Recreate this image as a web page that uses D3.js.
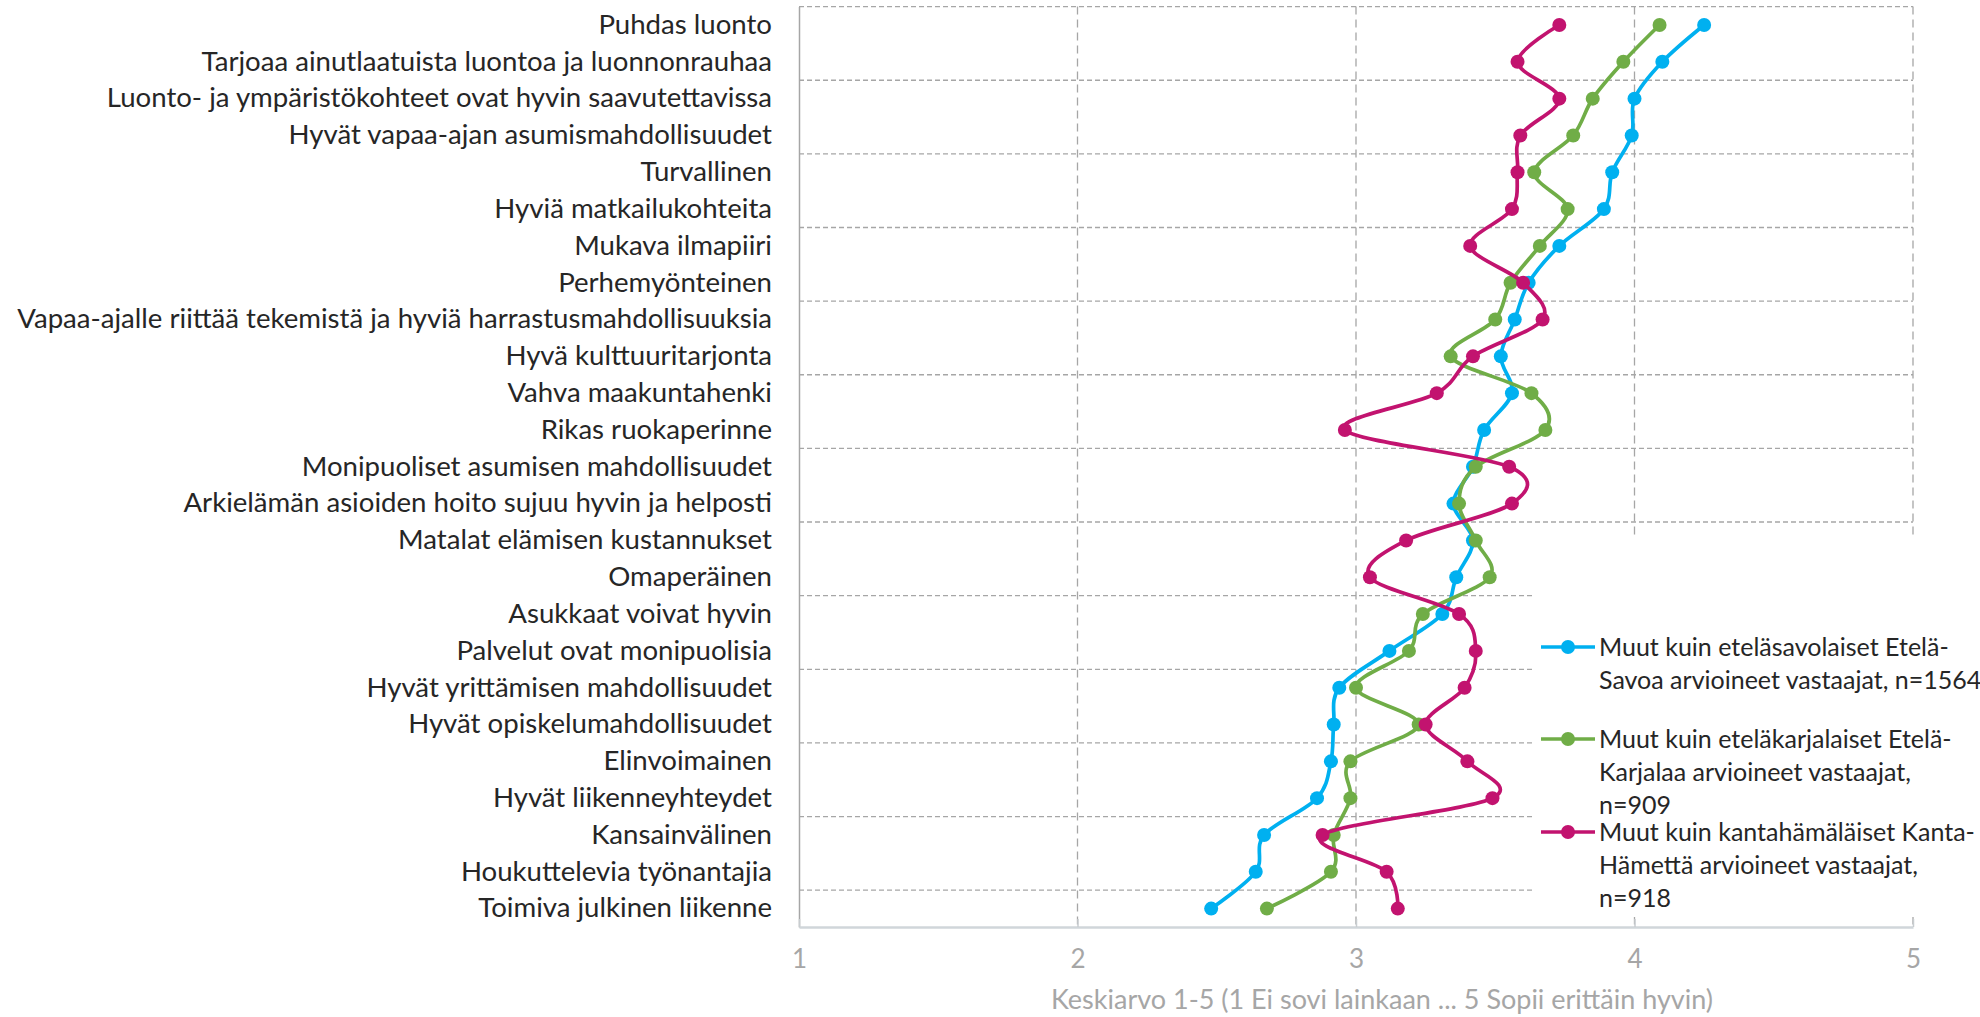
<!DOCTYPE html>
<html>
<head>
<meta charset="utf-8">
<script src="https://cdn.jsdelivr.net/npm/d3@7"></script>
<style>
  body { margin: 0; background: #fff; }
  svg { display: block; font-family: Lato, sans-serif; }
</style>
</head>
<body>
<div id="chart-container"></div>
<script>
const w = 1980;
const h = 1017;

// categories, top to bottom
const categories = [
  'Puhdas luonto',
  'Tarjoaa ainutlaatuista luontoa ja luonnonrauhaa',
  'Luonto- ja ympäristökohteet ovat hyvin saavutettavissa',
  'Hyvät vapaa-ajan asumismahdollisuudet',
  'Turvallinen',
  'Hyviä matkailukohteita',
  'Mukava ilmapiiri',
  'Perhemyönteinen',
  'Vapaa-ajalle riittää tekemistä ja hyviä harrastusmahdollisuuksia',
  'Hyvä kulttuuritarjonta',
  'Vahva maakuntahenki',
  'Rikas ruokaperinne',
  'Monipuoliset asumisen mahdollisuudet',
  'Arkielämän asioiden hoito sujuu hyvin ja helposti',
  'Matalat elämisen kustannukset',
  'Omaperäinen',
  'Asukkaat voivat hyvin',
  'Palvelut ovat monipuolisia',
  'Hyvät yrittämisen mahdollisuudet',
  'Hyvät opiskelumahdollisuudet',
  'Elinvoimainen',
  'Hyvät liikenneyhteydet',
  'Kansainvälinen',
  'Houkuttelevia työnantajia',
  'Toimiva julkinen liikenne'
];

const etelaSavo = [4.25, 4.10, 4.00, 3.99, 3.92, 3.89, 3.73, 3.62, 3.57, 3.52, 3.56, 3.46, 3.42,
  3.35, 3.42, 3.36, 3.31, 3.12, 2.94, 2.92, 2.91, 2.86, 2.67, 2.64, 2.48];
const etelaKarjala = [4.09, 3.96, 3.85, 3.78, 3.64, 3.76, 3.66, 3.555, 3.50, 3.34, 3.63, 3.68, 3.43,
  3.37, 3.43, 3.48, 3.24, 3.19, 3.00, 3.225, 2.98, 2.98, 2.92, 2.91, 2.68];
const kantaHame = [3.73, 3.58, 3.73, 3.59, 3.58, 3.56, 3.41, 3.60, 3.67, 3.42, 3.29, 2.96, 3.55,
  3.56, 3.18, 3.05, 3.37, 3.43, 3.39, 3.25, 3.40, 3.49, 2.88, 3.11, 3.15];

const seriesNames = [
  ['Muut kuin eteläsavolaiset Etelä-', 'Savoa arvioineet vastaajat, n=1564'],
  ['Muut kuin eteläkarjalaiset Etelä-', 'Karjalaa arvioineet vastaajat,', 'n=909'],
  ['Muut kuin kantahämäläiset Kanta-', 'Hämettä arvioineet vastaajat,', 'n=918']
];
const seriesColors = ['#00b0f0', '#70ad47', '#c2136f'];
const xTicks = [1, 2, 3, 4, 5];
const axisTitle = 'Keskiarvo 1-5 (1 Ei sovi lainkaan ... 5 Sopii erittäin hyvin)';

const series = [etelaSavo, etelaKarjala, kantaHame].map((values, i) => ({
  values,
  name: seriesNames[i],
  color: seriesColors[i]
}));

const plot = { left: 799, right: 1913, top: 6.6, bottom: 927 };
const gridColor = '#a6a6a6';

const xScale = d3.scaleLinear().domain([1, 5]).range([plot.left, plot.right]);
const yScale = d3.scaleBand().domain(categories).range([plot.top, plot.bottom]).padding(0);
const yMid = (c) => yScale(c) + yScale.bandwidth() / 2;

const svg = d3
  .select('#chart-container')
  .append('svg')
  .attr('width', w)
  .attr('height', h);

// horizontal gridlines every second category
svg
  .append('g')
  .selectAll('line')
  .data(categories.filter((c, i) => i % 2 === 0))
  .enter()
  .append('line')
  .attr('x1', plot.left)
  .attr('x2', plot.right)
  .attr('y1', (d) => yScale(d))
  .attr('y2', (d) => yScale(d))
  .attr('stroke', gridColor)
  .attr('stroke-width', 1.3)
  .attr('stroke-dasharray', '5,3');

// vertical gridlines
svg
  .append('g')
  .selectAll('line')
  .data(xTicks.slice(1))
  .enter()
  .append('line')
  .attr('x1', (d) => xScale(d))
  .attr('x2', (d) => xScale(d))
  .attr('y1', plot.top)
  .attr('y2', plot.bottom)
  .attr('stroke', gridColor)
  .attr('stroke-width', 1.3)
  .attr('stroke-dasharray', '8,5');

// left axis line + category labels
const yAxis = d3.axisLeft(yScale).tickSize(0).tickPadding(27);
const gy = svg
  .append('g')
  .attr('transform', `translate(${plot.left},0)`)
  .call(yAxis);
gy.select('.domain').attr('stroke', gridColor).attr('stroke-width', 1.5);
gy.selectAll('text')
  .attr('fill', '#262626')
  .style('font-size', '27.6px')
  .style('font-family', 'Lato, sans-serif');

// lines
const line = d3
  .line()
  .x((d) => xScale(d.v))
  .y((d) => yMid(d.c))
  .curve(d3.curveCatmullRom.alpha(0));

series.forEach((s) => {
  const pts = s.values.map((v, i) => ({ v, c: categories[i] }));
  const g = svg.append('g');
  g.append('path')
    .datum(pts)
    .attr('d', line)
    .attr('fill', 'none')
    .attr('stroke', s.color)
    .attr('stroke-width', 3.7)
    .attr('stroke-linejoin', 'round');
  g.selectAll('circle')
    .data(pts)
    .enter()
    .append('circle')
    .attr('cx', (d) => xScale(d.v))
    .attr('cy', (d) => yMid(d.c))
    .attr('r', 7)
    .attr('fill', s.color);
});

// legend, white box over the grid
const legend = svg.append('g');
legend
  .append('rect')
  .attr('x', 1532)
  .attr('y', 539)
  .attr('width', w - 1532)
  .attr('height', 378)
  .attr('fill', '#fff');

const legendTop = [647, 739, 832];
const lineGap = 33;
series.forEach((s, i) => {
  const y0 = legendTop[i];
  const item = legend.append('g');
  item.append('line')
    .attr('x1', 1541)
    .attr('x2', 1595)
    .attr('y1', y0)
    .attr('y2', y0)
    .attr('stroke', s.color)
    .attr('stroke-width', 3.7);
  item.append('circle')
    .attr('cx', 1568)
    .attr('cy', y0)
    .attr('r', 7)
    .attr('fill', s.color);
  item.selectAll('text')
    .data(s.name)
    .enter()
    .append('text')
    .attr('x', 1599)
    .attr('y', (d, j) => y0 + j * lineGap)
    .attr('dy', '0.35em')
    .attr('fill', '#262626')
    .style('font-size', '25px')
    .text((d) => d);
});

// bottom axis
const xAxis = d3
  .axisBottom(xScale)
  .tickValues(xTicks)
  .tickFormat(d3.format('d'))
  .tickSizeInner(-8)
  .tickSizeOuter(0)
  .tickPadding(23);
const gx = svg
  .append('g')
  .attr('transform', `translate(0,${plot.bottom})`)
  .call(xAxis);
gx.select('.domain').attr('stroke', '#d0d6da').attr('stroke-width', 2.5);
gx.selectAll('.tick line').attr('stroke', '#c8cdd0').attr('stroke-width', 1.5);
gx.selectAll('text')
  .attr('fill', '#a6a6a6')
  .style('font-size', '26px')
  .style('font-family', 'Lato, sans-serif');

// axis title, a little right of the plot centre as in the original
svg
  .append('text')
  .attr('x', 1382)
  .attr('y', 1000)
  .attr('dy', '0.35em')
  .attr('text-anchor', 'middle')
  .attr('fill', '#a6a6a6')
  .style('font-size', '27px')
  .text(axisTitle);
</script>
</body>
</html>
